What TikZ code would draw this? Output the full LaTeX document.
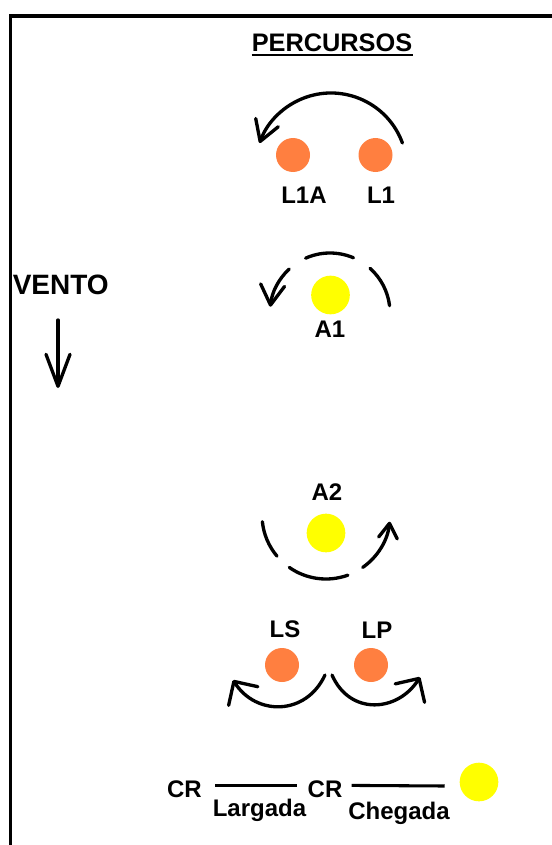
\documentclass[tikz,border=0pt]{standalone}
\usepackage{fontspec}
\setmainfont{Liberation Sans}
\usetikzlibrary{arrows.meta}
\definecolor{buoyorange}{RGB}{255,127,64}
\definecolor{buoyyellow}{RGB}{255,255,0}
\tikzset{
  buoy/.style={circle,fill=#1,inner sep=0pt},
  tag/.style={font=\fontsize{18}{20}\selectfont\bfseries,inner sep=0pt,anchor=base},
  stroke/.style={line width=2.5pt,line cap=round,line join=round},
  tipped/.style={-{Straight Barb[round,length=15pt,width=18pt]}},
  lane/.style={line width=2.3pt}
}
\begin{document}
\begin{tikzpicture}[x=0.75pt,y=-0.75pt]
  \useasboundingbox (0,0) rectangle (552,845);
  \def \Marks {
    L1A/293/155/buoyorange/25.5pt/304/203,
    L1/375.5/155/buoyorange/25.5pt/381/203,
    A1/330.5/295/buoyyellow/29pt/330/337,
    A2/326/533/buoyyellow/29pt/327/500,
    LS/282/665/buoyorange/25.5pt/285/637,
    LP/371/665/buoyorange/25.5pt/377/638}

  \foreach \id / \x / \y / \c / \sz / \lx / \ly in \Marks {
    \node[buoy=\c,minimum size=\sz] (\id) at (\x,\y) {};
    \node[tag] (t\id) at (\lx,\ly) {\id};
  }

  % title and wind
  \node[tag,font=\fontsize{19}{22}\selectfont\bfseries] (title) at (332,52) {PERCURSOS};
  \draw[line width=1.3pt] ([yshift=-2pt]title.base west) -- ([yshift=-2pt]title.base east);
  \node[tag,font=\fontsize{21}{23}\selectfont\bfseries,anchor=base east] (vento) at (109,294) {VENTO};
  \coordinate (w1) at (58,320);
  \coordinate (w2) at (58,388);
  \draw[stroke,-{Straight Barb[round,length=24pt,width=18pt]}] (w1) -- (w2);

  % rounding arcs
  \coordinate (o1) at (331,169);
  \draw[stroke,tipped] ([shift={(20:57pt)}]o1) arc[start angle=20,end angle=160,radius=57pt];

  \coordinate (o2) at (330,313);
  \draw[stroke] ([shift={(67:45pt)}]o2) arc[start angle=67,end angle=114,radius=45pt];
  \draw[stroke] ([shift={(7:45pt)}]o2) arc[start angle=7,end angle=48,radius=45pt];
  \draw[stroke,tipped] ([shift={(133:45pt)}]o2) arc[start angle=133,end angle=174,radius=45pt];

  \coordinate (o3) at (326,515);
  \draw[stroke] ([shift={(186:48pt)}]o3) arc[start angle=186,end angle=220,radius=48pt];
  \draw[stroke] ([shift={(235:48pt)}]o3) arc[start angle=235,end angle=290,radius=48pt];
  \draw[stroke,-{Straight Barb[round,length=11pt,width=14pt]}] ([shift={(305:48pt)}]o3) arc[start angle=305,end angle=354,radius=48pt];

  \coordinate (ls1) at (325,675);
  \coordinate (ls2) at (233,680);
  \coordinate (lp1) at (332,675);
  \coordinate (lp2) at (420,677);
  \draw[stroke,-{Straight Barb[round,length=13pt,width=26pt]}] (ls1) .. controls (306,716) and (256,716) .. (ls2);
  \draw[stroke,-{Straight Barb[round,length=13pt,width=26pt]}] (lp1) .. controls (350,716) and (398,712) .. (lp2);

  % start and finish
  \node[tag] (cr1) at (184.5,797) {CR};
  \node[tag] (cr2) at (325,797) {CR};
  \node[buoy=buoyyellow,minimum size=29pt] (fin) at (479,782) {};
  \draw[lane] ([xshift=9.75pt,yshift=2.5pt]cr1.east) -- ([xshift=-7.5pt,yshift=2.5pt]cr2.west);
  \draw[lane] ([xshift=6.75pt,yshift=2.5pt]cr2.east) -- ([xshift=-11pt,yshift=-3pt]fin.west);
  \node[tag] (larg) at (259.5,816) {Largada};
  \node[tag] (cheg) at (399,819) {Chegada};

  % frame
  \draw[line width=2.6pt] (10.5,845) -- (10.5,16) -- (552,16);
\end{tikzpicture}
\end{document}
